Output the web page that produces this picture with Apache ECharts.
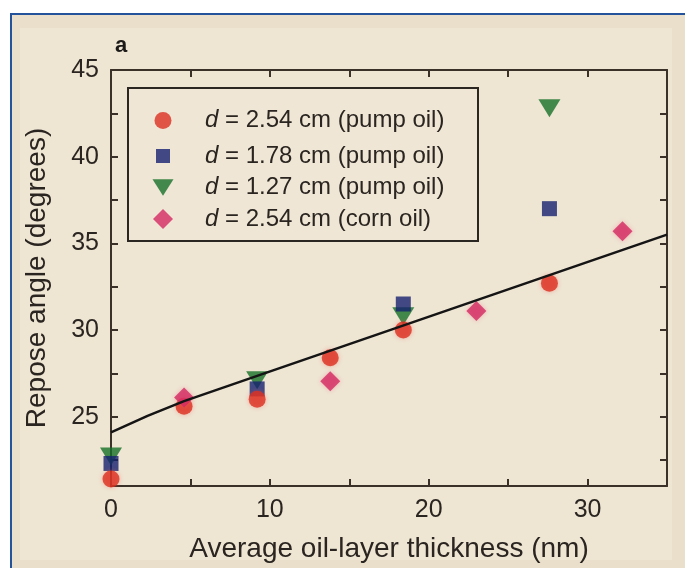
<!DOCTYPE html>
<html>
<head>
<meta charset="utf-8">
<script src="https://cdn.jsdelivr.net/npm/echarts@6/dist/echarts.min.js"></script>
<style>
html,body{margin:0;padding:0;background:#ffffff;}
#chart{width:685px;height:568px;}
</style>
</head>
<body>
<div id="chart"></div>
<script>
// ---- data ----
const seriesNames = [
  'd = 2.54 cm (pump oil)',
  'd = 1.78 cm (pump oil)',
  'd = 1.27 cm (pump oil)',
  'd = 2.54 cm (corn oil)'
];
const pumpOil254 = [[0,21.4],[4.6,25.6],[9.2,26.0],[13.8,28.4],[18.4,30.0],[27.6,32.7]];
const pumpOil178 = [[0,22.3],[9.2,26.6],[18.4,31.5],[27.6,37.0]];
const pumpOil127 = [[0,22.7],[9.2,27.1],[18.4,30.8],[27.6,42.8]];
const cornOil254 = [[4.6,26.1],[13.8,27.05],[23.0,31.1],[32.2,35.7]];
const fitLine = [[0,24.1],[2.3,25.05],[4.6,25.9],[9.2,27.35],[35,35.5]];
const xTickValues = [0,5,10,15,20,25,30,35];
const xLabelValues = [0,10,20,30];
const yTickValues = [22.5,25,27.5,30,32.5,35,37.5,40,42.5,45];
const yLabelValues = [25,30,35,40,45];
const xRange = [0,35];
const yRange = [21,45];
const xTitle = 'Average oil-layer thickness (nm)';
const yTitle = 'Repose angle (degrees)';
const panelLabel = 'a';

const FONT = '"Liberation Sans", Arial, Helvetica, sans-serif';
const AX = '#3a3128';
const TXT = '#2a2520';
const COLORS = ['#dc2f20','#15206f','#177029','#d32961'];
const chart = echarts.init(document.getElementById('chart'), null, {renderer:'canvas'});

function axisCommon(showLabel, values, labelValues){
  return {
    axisLine:{show:true,onZero:false,lineStyle:{color:AX,width:2}},
    axisTick:{show:true,inside:true,length:7,customValues:values,lineStyle:{color:AX,width:2}},
    axisLabel:{show:showLabel,customValues:labelValues,color:TXT,fontSize:25,fontFamily:FONT,margin:12},
    splitLine:{show:false}
  };
}

// one legend per entry so each icon keeps its own size
const legendIcons = [
  {w:17,h:17,row:117},
  {w:14,h:14,row:151},
  {w:21,h:18,row:184.5},
  {w:20,h:20,row:217}
];
const ICON_CX = 163, TEXT_X = 205, LFS = 24;
const legends = seriesNames.map(function(nm, i){
  const ic = legendIcons[i];
  const sp = TEXT_X - (ICON_CX - ic.w/2 + ic.w + 5);
  return {
    data:[nm],
    orient:'vertical',
    left: ICON_CX - ic.w/2,
    top: ic.row - ic.h/2,
    padding:0,
    itemWidth:ic.w, itemHeight:ic.h,
    formatter:function(name){ return '{sp|}{i|d}{t|' + name.slice(1) + '}'; },
    textStyle:{
      fontFamily:FONT,fontSize:LFS,color:TXT,
      rich:{
        sp:{width:sp},
        i:{fontStyle:'italic',fontFamily:FONT,fontSize:LFS,color:TXT},
        t:{fontFamily:FONT,fontSize:LFS,color:TXT}
      }
    }
  };
});

const option = {
  backgroundColor:'#ffffff',
  animation:false,
  graphic:[
    {type:'rect',shape:{x:11,y:14,width:690,height:570},style:{fill:'#eadfcb',stroke:'#24539c',lineWidth:2},z:-10},
    {type:'rect',shape:{x:20,y:28,width:652,height:532},style:{fill:'#eee5d3'},z:-9},
    {type:'rect',shape:{x:128,y:88,width:350,height:153},style:{fill:'#efe6d5',stroke:'#2a2622',lineWidth:2},z:0}
  ],
  title:{text:panelLabel,left:110,top:30,textStyle:{fontFamily:FONT,fontSize:22,fontWeight:'bold',color:'#1c1a18'}},
  grid:{left:111,top:70,right:18,bottom:80,containLabel:false},
  legend:legends,
  xAxis:[
    Object.assign({type:'value',position:'bottom',min:xRange[0],max:xRange[1],
      name:xTitle,nameLocation:'middle',nameGap:49,
      nameTextStyle:{fontFamily:FONT,fontSize:28,color:TXT}},
      axisCommon(true,xTickValues,xLabelValues)),
    Object.assign({type:'value',position:'top',min:xRange[0],max:xRange[1]},
      axisCommon(false,xTickValues,xLabelValues))
  ],
  yAxis:[
    Object.assign({type:'value',position:'left',min:yRange[0],max:yRange[1],
      name:yTitle,nameLocation:'middle',nameGap:60,nameRotate:90,
      nameTextStyle:{fontFamily:FONT,fontSize:28,color:TXT}},
      axisCommon(true,yTickValues,yLabelValues)),
    Object.assign({type:'value',position:'right',min:yRange[0],max:yRange[1]},
      axisCommon(false,yTickValues,yLabelValues))
  ],
  series:[
    {name:seriesNames[0],type:'scatter',data:pumpOil254,symbol:'circle',symbolSize:17,z:4,
      itemStyle:{color:COLORS[0],shadowBlur:4,shadowColor:'rgba(240,90,80,0.5)'}},
    {name:seriesNames[1],type:'scatter',data:pumpOil178,symbol:'rect',symbolSize:15,z:3,
      itemStyle:{color:COLORS[1]}},
    {name:seriesNames[2],type:'scatter',data:pumpOil127,symbol:'path://M0,0 L24,0 L12,19 Z',symbolSize:[22,18],z:2,
      itemStyle:{color:COLORS[2]}},
    {name:seriesNames[3],type:'scatter',data:cornOil254,symbol:'diamond',symbolSize:20,z:5,
      itemStyle:{color:COLORS[3],shadowBlur:4,shadowColor:'rgba(240,100,130,0.5)'}},
    {name:'fit',type:'line',data:fitLine,symbol:'none',z:10,silent:true,
      lineStyle:{color:'#151515',width:2.5}}
  ]
};
chart.setOption(option);
</script>
</body>
</html>
